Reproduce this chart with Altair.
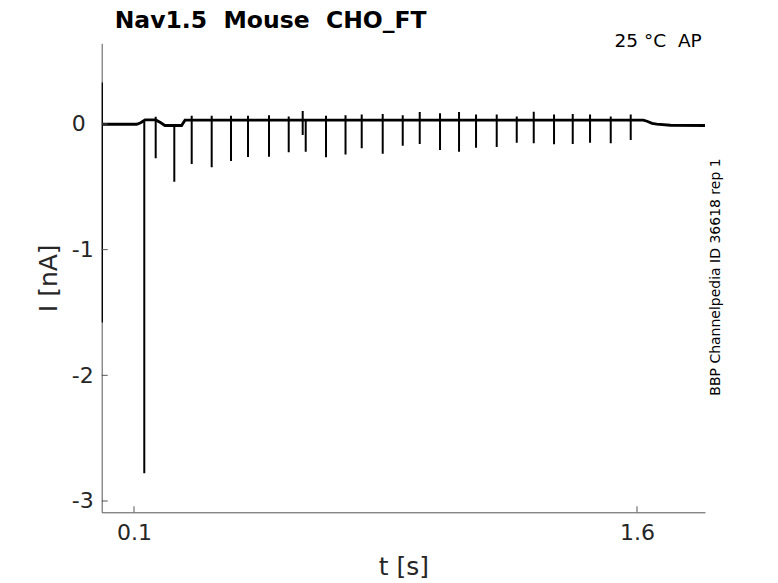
import altair as alt
import pandas as pd

# ---- data ----
x_domain = [0.0037, 1.8028]
y_domain = [-3.09, 0.642]
x_ticks = [0.1, 1.6]
y_ticks = [-3, -2, -1, 0]

# holding-current baseline (t in s, I in nA)
base_t = [0.0045, 0.108, 0.120, 0.133, 0.165, 0.180, 0.192, 0.242, 0.252,
          1.619, 1.630, 1.645, 1.659, 1.700, 1.8028]
base_i = [-0.002, -0.002, 0.010, 0.032, 0.032, 0.010, -0.012, -0.012, 0.030,
          0.030, 0.022, 0.005, -0.002, -0.010, -0.012]

# fast transients (capacitive / sodium spikes): time, top, bottom
spike_t = [0.0045, 0.1307, 0.1647, 0.2202, 0.2721, 0.3317, 0.3893, 0.4400,
           0.5026, 0.5614, 0.6031, 0.6121, 0.6726, 0.7308, 0.7791, 0.8417,
           0.9014, 0.9521, 1.0126, 1.0693, 1.1200, 1.1817, 1.2414, 1.2921,
           1.3526, 1.4084, 1.4600, 1.5217, 1.5813]
spike_top = [0.330, 0.020, 0.058, -0.005, 0.066, 0.065, 0.066, 0.066,
             0.070, 0.060, 0.103, 0.040, 0.066, 0.070, 0.075, 0.080,
             0.070, 0.095, 0.085, 0.095, 0.075, 0.075, 0.060, 0.098,
             0.075, 0.080, 0.075, 0.060, 0.075]
spike_min = [-1.580, -2.780, -0.273, -0.459, -0.318, -0.345, -0.294, -0.263,
             -0.260, -0.225, -0.088, -0.220, -0.265, -0.243, -0.193, -0.236,
             -0.173, -0.159, -0.207, -0.220, -0.189, -0.183, -0.149, -0.154,
             -0.162, -0.159, -0.149, -0.154, -0.127]

title_text = "Nav1.5\u00a0 Mouse\u00a0 CHO_FT"
corner_text = "25 °C\u00a0 AP"
side_text = "BBP Channelpedia ID 36618 rep 1"

# ---- tables ----
base_df = pd.DataFrame({"t": base_t, "i": base_i})
spike_df = pd.DataFrame({"t": spike_t, "i": spike_top, "i2": spike_min})
xt_df = pd.DataFrame({"t": x_ticks})
yt_df = pd.DataFrame({"i": y_ticks})

W, H = 603.3, 469
FONT = "DejaVu Sans"
AX = "#555555"
TXT = "#262626"

xs = alt.Scale(domain=x_domain, nice=False, zero=False)
ys = alt.Scale(domain=y_domain, nice=False, zero=False)

x_axis = alt.Axis(
    values=x_ticks, title="t [s]", labelExpr="toString(datum.value)",
    ticks=False, grid=False, labelPadding=10, labelFontSize=22,
    titleX=W / 2, titleY=62, titleAlign="center", titleBaseline="alphabetic",
    titleFontSize=25, titleFontWeight="normal")
y_axis = alt.Axis(
    values=y_ticks, title="I [nA]", labelExpr="toString(datum.value)",
    ticks=False, grid=False, labelPadding=30.5, labelAlign="left",
    labelFontSize=22,
    titleX=-45, titleY=H / 2, titleAngle=270, titleAlign="center",
    titleBaseline="alphabetic", titleFontSize=25, titleFontWeight="normal")

base = alt.Chart(base_df).mark_line(color="black", strokeWidth=2.8, clip=True).encode(
    x=alt.X("t:Q", scale=xs, axis=x_axis),
    y=alt.Y("i:Q", scale=ys, axis=y_axis),
)

spikes = alt.Chart(spike_df).mark_rule(color="black", strokeWidth=2.0, clip=True).encode(
    x=alt.X("t:Q", scale=xs, axis=x_axis),
    y=alt.Y("i:Q", scale=ys, axis=y_axis),
    y2="i2:Q",
)

xticks = alt.Chart(xt_df).mark_rule(color=AX, strokeWidth=1).encode(
    x=alt.X("t:Q", scale=xs, axis=x_axis),
    y=alt.value(H),
    y2=alt.value(H - 6),
)
yticks = alt.Chart(yt_df).mark_rule(color=AX, strokeWidth=1).encode(
    y=alt.Y("i:Q", scale=ys, axis=y_axis),
    x=alt.value(0),
    x2=alt.value(6),
)

title = alt.Chart(pd.DataFrame({"s": [title_text]})).mark_text(
    font=FONT, fontSize=23.5, fontWeight="bold", color="black", align="left",
    baseline="alphabetic"
).encode(text="s:N", x=alt.value(13), y=alt.value(-15.5))

corner = alt.Chart(pd.DataFrame({"s": [corner_text]})).mark_text(
    font=FONT, fontSize=18.5, color="black", align="right", baseline="alphabetic"
).encode(text="s:N", x=alt.value(600), y=alt.value(4))

side = alt.Chart(pd.DataFrame({"s": [side_text]})).mark_text(
    font=FONT, fontSize=14, color="black", align="center", baseline="middle", angle=270
).encode(text="s:N", x=alt.value(614.3), y=alt.value(233.7))

chart = alt.layer(base, spikes, xticks, yticks, title, corner, side).properties(
    width=W, height=H,
    autosize=alt.AutoSizeParams(type="none"),
    padding={"left": 93.7, "top": 35.3, "right": 60, "bottom": 70},
).configure_view(stroke=None).configure_axis(
    domainColor=AX, domainWidth=1, labelColor=TXT, labelFont=FONT,
    titleColor=TXT, titleFont=FONT,
)

chart.save("out.html", embed_options={"renderer": "svg", "actions": False})
